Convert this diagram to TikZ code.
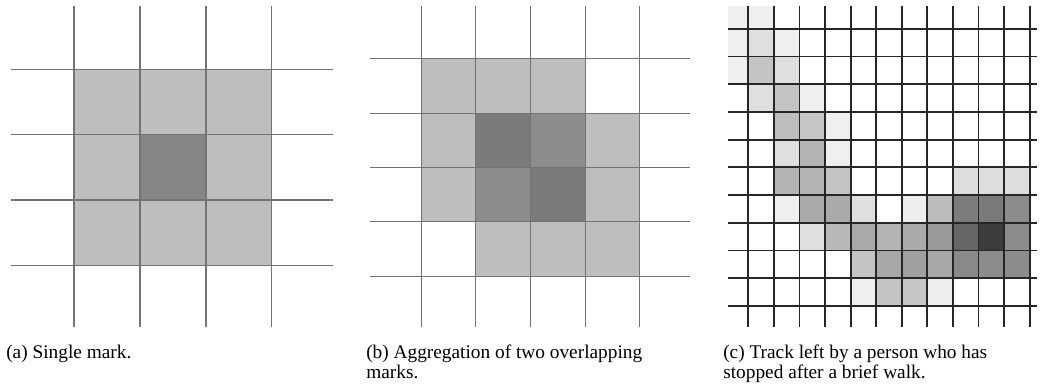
\documentclass[tikz,border=0pt]{standalone}
\usepackage{fontspec}
\setmainfont{Liberation Serif}
\definecolor{lgA}{HTML}{BEBEBE}
\definecolor{dkA}{HTML}{858585}
\definecolor{dkB}{HTML}{7A7B7A}
\definecolor{mdB}{HTML}{8C8C8C}
\tikzset{
  thingrid/.style={draw=black!55,line width=1.1pt},
  thickgrid/.style={draw=black!85,line width=1.4pt},
  captxt/.style={anchor=base west,inner sep=0pt,font=\fontsize{14.5}{15}\selectfont}
}
\begin{document}
\begin{tikzpicture}[x=0.75pt,y=-0.75pt]
\useasboundingbox (0,0) rectangle (1046,383);
% ---------- panel (a) ----------
\fill[lgA] (74,69.3) rectangle (271.7,265.7);
\fill[dkA] (139.9,134.7) rectangle (205.8,200);
\foreach \x in {74,139.9,205.8,271.7} \draw[thingrid] (\x,6) -- (\x,327);
\foreach \y in {69.3,134.7,200,265.7} \draw[thingrid] (11,\y) -- (333,\y);
% ---------- panel (b) ----------
\fill[lgA] (421.7,58.7) rectangle (585.5,113.7);
\fill[lgA] (421.7,113.7) rectangle (639.7,221.3);
\fill[lgA] (475.5,221.3) rectangle (639.7,276.3);
\fill[dkB] (475.5,113.7) rectangle (530.5,167.7);
\fill[mdB] (530.5,113.7) rectangle (585.5,167.7);
\fill[mdB] (475.5,167.7) rectangle (530.5,221.3);
\fill[dkB] (530.5,167.7) rectangle (585.5,221.3);
\foreach \x in {421.7,475.5,530.5,585.5,639.7} \draw[thingrid] (\x,6) -- (\x,327);
\foreach \y in {58.7,113.7,167.7,221.3,276.3} \draw[thingrid] (370,\y) -- (690,\y);
% ---------- panel (c) ----------
\begin{scope}
\clip (728,6) rectangle (1037,327);
\foreach \c/\r/\g in {
  0/0/239,1/0/239,
  0/1/239,1/1/223,2/1/239,
  0/2/239,1/2/196,2/2/223,
  1/3/223,2/3/196,3/3/239,
  2/4/190,3/4/198,4/4/239,
  2/5/223,3/5/180,4/5/239,
  2/6/180,3/6/180,4/6/196,9/6/221,10/6/221,11/6/221,
  2/7/239,3/7/170,4/7/170,5/7/223,7/7/238,8/7/187,9/7/124,10/7/122,11/7/140,
  3/8/223,4/8/184,5/8/170,6/8/180,7/8/170,8/8/153,9/8/102,10/8/60,11/8/140,
  5/9/196,6/9/168,7/9/160,8/9/168,9/9/138,10/9/140,11/9/140,
  5/10/239,6/10/196,7/10/198,8/10/238}
  \fill[fill={rgb,255:red,\g;green,\g;blue,\g}]
    ({722.72+25.58*\c},{0.97+27.73*\r}) rectangle ({748.3+25.58*\c},{28.7+27.73*\r});
\end{scope}
\foreach \i in {0,...,11} \draw[thickgrid] ({748.3+25.58*\i},6) -- ({748.3+25.58*\i},327);
\foreach \j in {0,...,10} \draw[thickgrid] (728,{28.7+27.73*\j}) -- (1037,{28.7+27.73*\j});
% ---------- captions ----------
\node[captxt] (capa) at (6,358) {(a) Single mark.};
\node[captxt] (capb1) at (366,358) {(b) Aggregation of two overlapping};
\node[captxt] (capb2) at (366,378) {marks.};
\node[captxt] (capc1) at (723,358) {(c) Track left by a person who has};
\node[captxt] (capc2) at (723,378) {stopped after a brief walk.};
\end{tikzpicture}
\end{document}
